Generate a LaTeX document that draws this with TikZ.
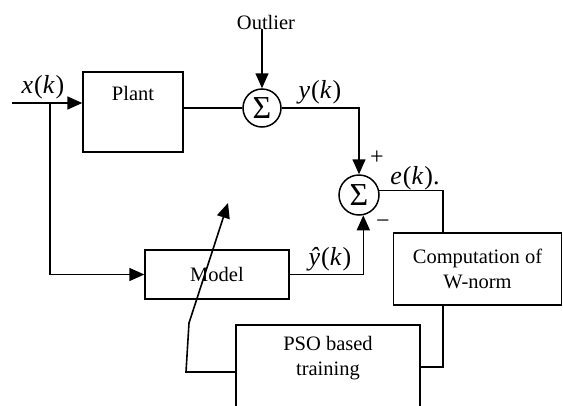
\documentclass[tikz,border=0pt]{standalone}
\usepackage{fontspec}
\setmainfont{Liberation Serif}
\usetikzlibrary{arrows.meta,calc}
\tikzset{
  blk/.style={draw, line width=1.4pt, inner sep=0pt, font=\fontsize{20.5}{25}\selectfont, align=center},
  sumnode/.style={draw, circle, line width=1.5pt, inner sep=0pt, font=\fontsize{32}{32}\selectfont},
  wire/.style={line width=1.6pt},
  arr/.style={wire, -{Triangle[length=15pt,width=13pt]}},
  sig/.style={inner sep=0pt, font=\fontsize{26}{28}\selectfont},
  txt/.style={inner sep=0pt, font=\fontsize{20.5}{25}\selectfont, align=center},
  pm/.style={inner sep=0pt, font=\fontsize{24}{24}\selectfont},
}
\newcommand{\iv}[1]{\textit{#1}}
\begin{document}
\begin{tikzpicture}[x=1pt,y=-1pt]
  \clip (0,0) rectangle (563,405);

  % blocks
  \node[blk, minimum width=100pt, minimum height=80pt,
        label={[name=plantlbl, txt, anchor=north, yshift=-15pt]north:Plant}] (plant) at (133,112) {};
  \node[blk, minimum width=144pt, minimum height=49pt] (model) at (217,274.5) {Model};
  \node[blk, minimum width=168pt, minimum height=72pt] (comp) at (477.5,269) {Computation of\\W-norm};
  \node[blk, minimum width=184pt, minimum height=140pt,
        label={[name=psolbl, txt, anchor=north, yshift=-12pt]north:PSO based\\training}] (pso) at (328,395) {};

  % summing junctions
  \node[sumnode, minimum size=38pt] (sum1) at (262,108) {Σ};
  \node[sumnode, minimum size=40pt] (sum2) at (359,195) {Σ};

  % texts and signal names
  \node[txt] (outlier) at (266,22) {Outlier};
  \node[sig] (xk) at (43,87) {\iv{x}\kern1pt(\iv{k}\kern1pt)};
  \node[sig] (yk) at (320,92) {\iv{y}\kern1pt(\iv{k}\kern1pt)};
  \node[sig] (ek) at (415,178) {\iv{e}\kern1pt(\iv{k}\kern1pt).};
  \node[sig] (yhk) at (330,259) {\iv{ŷ}\kern1pt(\iv{k}\kern1pt)};
  \node[pm] (plus) at (377,158) {+};
  \node[pm] (minus) at (383,224) {−};

  % free ends and bends
  \coordinate (in) at (12,103);
  \coordinate (br) at (50,103);
  \coordinate (rx) at (443,0);
  \coordinate (fb) at (443,367);
  \coordinate (t1) at (186,372);
  \coordinate (t2) at (189,323);
  \coordinate (tip) at (228,203);

  % connectors
  \draw[arr] (in) -- (in -| plant.west);
  \draw[arr] (br) |- (model.west);
  \draw[wire] (sum1.west -| plant.east) -- (sum1.west);
  \draw[arr] (outlier.south -| sum1.north) -- (sum1.north);
  \draw[arr] (sum1.east) -| (sum2.north);
  \draw[arr] (model.east) -| (sum2.-78);
  \draw[wire] (sum2.12) -| (rx |- comp.north);
  \draw[wire] (rx |- comp.south) -- (fb) -- (fb -| pso.east);
  \draw[arr] (t1 -| pso.west) -- (t1) -- (t2) -- (tip);
\end{tikzpicture}
\end{document}
